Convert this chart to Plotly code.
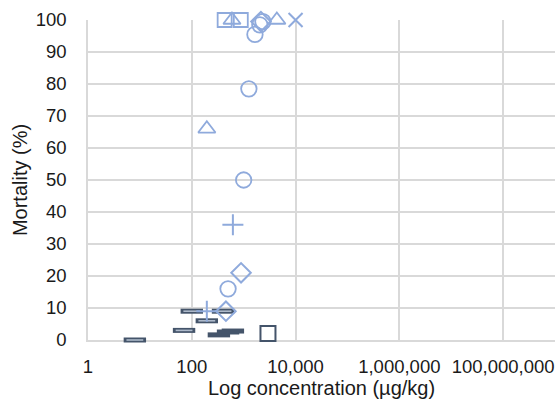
import plotly.graph_objects as go

# Concentration (µg/kg) and mortality (%) by marker group
circle_x = [1650, 2050, 2350, 1260, 1000, 500]
circle_y = [95.5, 98.5, 99.5, 78.5, 50, 16]

triangle_x = [195, 595, 4360]
triangle_y = [66, 100, 100]

square_x = [430, 880]
square_y = [100, 100]

diamond_x = [2150, 890, 455]
diamond_y = [99.5, 21, 9]

plus_x = [620, 195]
plus_y = [36, 9]

cross_x = [10000]
cross_y = [100]

dark_square_x = [2940]
dark_square_y = [2]

dash_x = [8, 71, 100, 195, 400]
dash_y = [0, 3, 9, 6, 9]

dark_dash_x = [333, 500, 620]
dark_dash_y = [1.6, 2.5, 2.8]

tick_vals = [1, 100, 10000, 1000000, 100000000]
tick_text = ["1", "100", "10,000", "1,000,000", "100,000,000"]

BLUE = "#8FAADC"
DARK = "#44546A"
LIGHT = "#ADB9CA"

fig = go.Figure()


def add(x, y, symbol, size, color, width, fill=None):
    fig.add_trace(go.Scatter(
        x=x, y=y, mode="markers", cliponaxis=False, showlegend=False,
        marker=dict(symbol=symbol, size=size,
                    color=fill if fill else color,
                    line=dict(color=color, width=width)),
    ))


# dash markers: dark outline with a lighter core
add(dash_x, dash_y, "line-ew", 16, DARK, 5)
add(dash_x, dash_y, "line-ew", 12, LIGHT, 1.6)
add(dark_dash_x, dark_dash_y, "line-ew", 16, DARK, 5)
add(dark_square_x, dark_square_y, "square-open", 15, DARK, 2)

add(circle_x, circle_y, "circle-open", 15.5, BLUE, 1.8)
add(triangle_x, triangle_y, "triangle-up-open", 15, BLUE, 1.8)
add(square_x, square_y, "square-open", 14, BLUE, 1.8)
add(diamond_x, diamond_y, "diamond-open", 15, BLUE, 2)
add(plus_x, plus_y, "cross-thin-open", 15, BLUE, 2)
add(cross_x, cross_y, "x-thin-open", 14, BLUE, 2)

fig.update_layout(
    width=558, height=408,
    margin=dict(l=88, r=3, t=20, b=68),
    paper_bgcolor="white", plot_bgcolor="white",
    font=dict(family="Liberation Sans, Arial, sans-serif", color="#1a1a1a", size=18.5),
    xaxis=dict(
        type="log", range=[0, 9],
        tickvals=tick_vals, ticktext=tick_text,
        showgrid=True, gridcolor="#D9D9D9", gridwidth=1.5,
        showline=True, linecolor="#D9D9D9", linewidth=1.5,
        zeroline=False, ticks="", ticklen=0, layer="below traces",
        tickfont=dict(size=18.5), ticklabelstandoff=9,
        title=dict(text="Log concentration (µg/kg)", font=dict(size=20), standoff=5),
    ),
    yaxis=dict(
        range=[0, 100], dtick=10,
        showgrid=True, gridcolor="#D9D9D9", gridwidth=1.5,
        showline=True, linecolor="#D9D9D9", linewidth=1.5,
        zeroline=False, ticks="", layer="below traces",
        tickfont=dict(size=18.5), ticklabelstandoff=16,
        title=dict(text="Mortality (%)", font=dict(size=20), standoff=3),
    ),
)

fig.write_html("out.html")
